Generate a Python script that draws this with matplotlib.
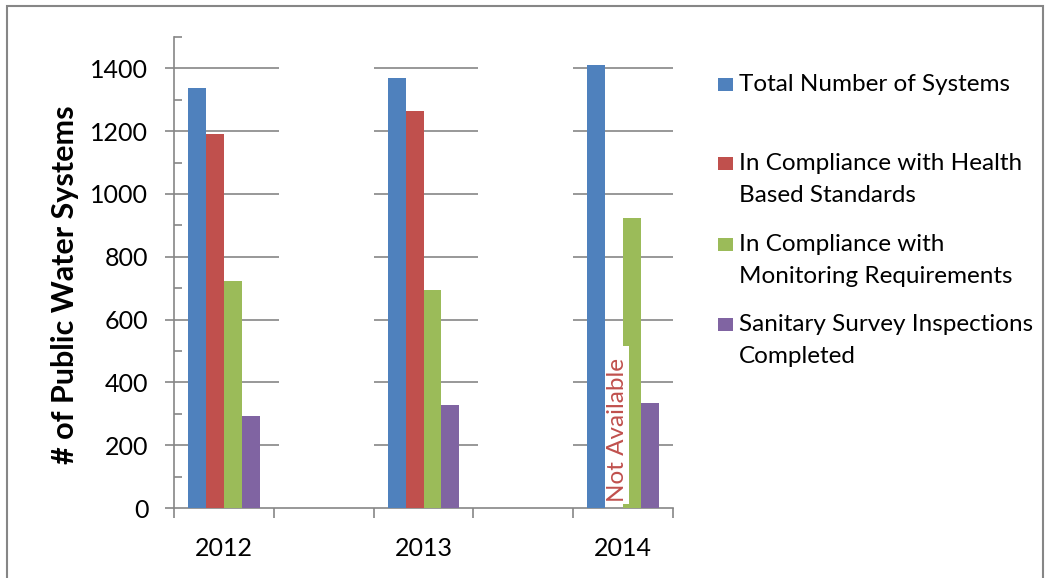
import matplotlib.pyplot as plt
from matplotlib.patches import Rectangle
import numpy as np

years = ['2012', '2013', '2014']
series = ['Total Number of Systems',
          'In Compliance with Health\nBased Standards',
          'In Compliance with\nMonitoring Requirements',
          'Sanitary Survey Inspections\nCompleted']
total = [1338, 1370, 1412]
health = [1192, 1265, np.nan]      # 2014 not available
monitoring = [722, 695, 925]
sanitary = [292, 328, 333]
colors = ['#4F81BD', '#C0504D', '#9BBB59', '#8064A2']

plt.rcParams['font.family'] = ['Lato', 'DejaVu Sans']
grey = '#868686'

fig = plt.figure(figsize=(10.47, 5.78), dpi=100)
ax = fig.add_axes([0.1662, 0.1211, 0.4766, 0.8149])

# each year sits in its own slot with an empty slot in between
pos = np.arange(len(years)) * 2
w = 0.18
for i, (vals, col) in enumerate(zip([total, health, monitoring, sanitary], colors)):
    ax.bar(pos + (i - 1.5) * w, vals, w, color=col, linewidth=0, zorder=3)

ax.set_xlim(-0.5, pos[-1] + 0.5)
ax.set_ylim(0, 1500)
ax.set_yticks(range(0, 1401, 200))
ax.set_yticks(range(100, 1501, 200), minor=True)
ax.set_xticks(pos)
ax.set_xticklabels(years)
ax.set_xticks(np.arange(-0.5, pos[-1] + 0.6, 1), minor=True)

# gridlines only over the year slots
for p in pos:
    ax.hlines(range(200, 1401, 200), p - 0.5, p + 0.55, color=grey, lw=1.2, zorder=1)

for s in ['top', 'right']:
    ax.spines[s].set_visible(False)
for s in ['left', 'bottom']:
    ax.spines[s].set_color(grey)
    ax.spines[s].set_linewidth(1.2)

ax.tick_params(axis='y', which='major', direction='out', length=6.5, width=1.2,
               color=grey, labelsize=18, pad=12)
ax.tick_params(axis='y', which='minor', direction='in', length=5.5, width=1.2, color=grey)
ax.tick_params(axis='x', which='major', length=0, labelsize=18, pad=21)
ax.tick_params(axis='x', which='minor', direction='out', length=7, width=1.2, color=grey)

# white box behind the "Not Available" note, in the empty health slot
ax.add_patch(Rectangle((pos[2] - w, 13), w + 0.06, 503, fc='white', ec='none', zorder=4))
ax.text(pos[2] - 0.5 * w + 0.03, 250, 'Not Available', rotation=90, color='#C0504D',
        fontsize=17.5, ha='center', va='center', zorder=5)

fig.text(0.062, 0.507, '# of Public Water Systems', rotation=90, fontsize=22,
         fontweight='bold', ha='center', va='center')

# legend (baseline of first line of each entry, 32px line pitch)
leg_base = [91, 170, 251, 331]
for lab, col, y in zip(series, colors, leg_base):
    fig.patches.append(Rectangle((718 / 1047, 1 - y / 578), 15 / 1047, 13 / 578,
                                 transform=fig.transFigure, fc=col, ec='none'))
    last = y + 32 * lab.count('\n')
    fig.text(739 / 1047, 1 - last / 578, lab, fontsize=17.5, va='baseline', ha='left',
             linespacing=1.64)

fig.patches.append(Rectangle((7 / 1047, -0.01), 1036 / 1047, 1.0 - 6 / 578 + 0.01,
                             transform=fig.transFigure, fill=False, ec=grey, lw=1.5))

fig.savefig('out.png', dpi=100)
